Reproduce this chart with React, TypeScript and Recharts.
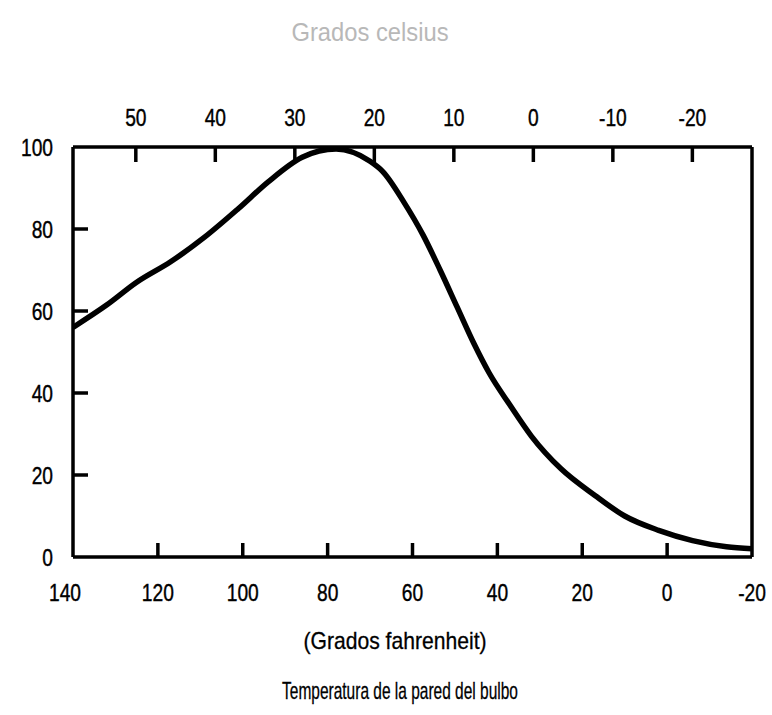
import React from 'react';
import { LineChart, Line, XAxis, YAxis } from 'recharts';

const fahrenheit = [140, 132, 125, 117, 109, 101, 94, 86, 78, 70, 67, 62, 57.5, 53.5, 49.5, 45.5, 42, 37, 32, 25, 17, 10, 2, -6, -14, -20];
const wallValue = [56, 61.5, 67, 72, 78, 85, 91.5, 97.5, 99.5, 96.5, 94, 86.5, 78.5, 70, 61, 52, 45, 37, 29.5, 21.5, 15, 10, 6.5, 4, 2.5, 2];
const fTicks = [140, 120, 100, 80, 60, 40, 20, 0, -20];
const cTicks = [50, 40, 30, 20, 10, 0, -10, -20];
const cDomain = [-27.5, 57.9];
const yTicks = [0, 20, 40, 60, 80, 100];
const yInnerTicks = [20, 40, 60, 80];

const data = fahrenheit.map((f, i) => ({ f, v: wallValue[i] }));

const FONT = "'Liberation Sans', Arial, sans-serif";
const SW = 3.5;

const NarrowText = ({ x, y, anchor, children }: any) => (
  <text
    transform={`translate(${x},${y}) scale(0.8,1)`}
    x={0}
    y={0}
    textAnchor={anchor}
    fontFamily={FONT}
    fontSize={24}
    fill="#000"
    stroke="#000"
    strokeWidth={0.4}
  >
    {children}
  </text>
);

const BottomTick = (props: any) => {
  const { x, y, payload } = props;
  const v = payload.value;
  const inner = v !== 140 && v !== -20;
  return (
    <g>
      {inner && <line x1={x} y1={y} x2={x} y2={y - 14} stroke="#000" strokeWidth={SW} />}
      <NarrowText x={v === 140 ? x - 8 : x} y={y + 44} anchor="middle">
        {v}
      </NarrowText>
    </g>
  );
};

const TopTick = (props: any) => {
  const { x, y, payload } = props;
  return (
    <g>
      <line x1={x} y1={y} x2={x} y2={y + 15} stroke="#000" strokeWidth={SW} />
      <NarrowText x={x} y={y - 21} anchor="middle">
        {payload.value}
      </NarrowText>
    </g>
  );
};

const LeftTick = (props: any) => {
  const { x, y, payload } = props;
  const v = payload.value;
  const inner = v !== 0 && v !== 100;
  return (
    <g>
      {inner && <line x1={x} y1={y} x2={x + 15} y2={y} stroke="#000" strokeWidth={SW} />}
      <NarrowText x={x - 20} y={y + 9} anchor="end">
        {v}
      </NarrowText>
    </g>
  );
};

const RightTick = (props: any) => {
  const { x, y } = props;
  return <line x1={x} y1={y} x2={x - 12} y2={y} stroke="#000" strokeWidth={SW} />;
};

const axisLine = { stroke: '#000', strokeWidth: SW };

export default function App() {
  return (
    <div style={{ position: 'absolute', left: 0, top: 0, width: 772, height: 715, background: '#fff' }}>
      <LineChart width={772} height={715} data={data} margin={{ top: 0, right: 0, bottom: 0, left: 0 }}>
        <XAxis
          xAxisId="f"
          dataKey="f"
          type="number"
          orientation="bottom"
          domain={[-20, 140]}
          allowDataOverflow
          reversed
          ticks={fTicks}
          interval={0}
          height={158}
          tickSize={0}
          tickMargin={0}
          tickLine={false}
          axisLine={axisLine}
          tick={<BottomTick />}
        />
        <XAxis
          xAxisId="c"
          dataKey="f"
          type="number"
          orientation="top"
          domain={cDomain}
          allowDataOverflow
          reversed
          ticks={cTicks}
          interval={0}
          height={147}
          tickSize={0}
          tickMargin={0}
          tickLine={false}
          axisLine={axisLine}
          tick={<TopTick />}
        />
        <YAxis
          yAxisId="l"
          type="number"
          domain={[0, 100]}
          ticks={yTicks}
          interval={0}
          width={73}
          tickSize={0}
          tickMargin={0}
          tickLine={false}
          axisLine={axisLine}
          tick={<LeftTick />}
        />
        <YAxis
          yAxisId="r"
          orientation="right"
          type="number"
          domain={[0, 100]}
          ticks={yInnerTicks}
          interval={0}
          width={20}
          tickSize={0}
          tickMargin={0}
          tickLine={false}
          axisLine={axisLine}
          tick={<RightTick />}
        />
        <Line
          xAxisId="f"
          yAxisId="l"
          dataKey="v"
          type="monotone"
          stroke="#000"
          strokeWidth={5.5}
          dot={false}
          activeDot={false}
          isAnimationActive={false}
        />
      </LineChart>
      <div style={{ position: 'absolute', left: 220, width: 300, top: 17, lineHeight: '30px', textAlign: 'center', fontFamily: FONT, fontSize: 25, color: '#b8b8b8', transform: 'scaleX(0.95)' }}>
        Grados celsius
      </div>
      <div style={{ position: 'absolute', left: 240, width: 310, top: 626, lineHeight: '30px', textAlign: 'center', fontFamily: FONT, fontSize: 24, color: '#000', transform: 'scaleX(0.88)', WebkitTextStroke: '0.3px #000' }}>
        (Grados fahrenheit)
      </div>
      <div style={{ position: 'absolute', left: 100, width: 600, top: 676, lineHeight: '30px', textAlign: 'center', fontFamily: FONT, fontSize: 24, color: '#000', transform: 'scaleX(0.645)', WebkitTextStroke: '0.3px #000' }}>
        Temperatura de la pared del bulbo
      </div>
    </div>
  );
}
